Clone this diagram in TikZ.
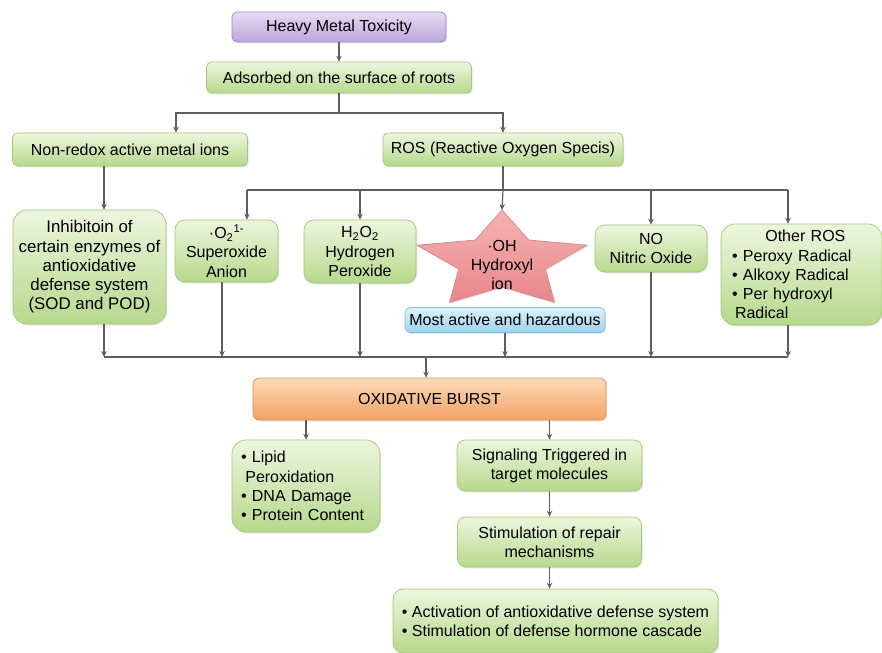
\documentclass[tikz,border=0pt]{standalone}
\usepackage{fontspec}
\setmainfont{Liberation Sans}
\usetikzlibrary{arrows.meta,shadows}
\definecolor{gtop}{HTML}{EDF6DE}
\definecolor{gbot}{HTML}{B7D88C}
\definecolor{gline}{HTML}{A3C878}
\definecolor{ptop}{HTML}{E6DCF3}
\definecolor{pbot}{HTML}{BBA5DB}
\definecolor{pline}{HTML}{9F89C8}
\definecolor{otop}{HTML}{FCDAB9}
\definecolor{obot}{HTML}{F3A264}
\definecolor{oline}{HTML}{E3955A}
\definecolor{btop}{HTML}{DFF2FB}
\definecolor{bbot}{HTML}{9DD2EE}
\definecolor{bline}{HTML}{82C0E2}
\definecolor{stop}{HTML}{F6B2B3}
\definecolor{sbot}{HTML}{E8878B}
\definecolor{sline}{HTML}{D88A8C}
\definecolor{linec}{HTML}{5E5E5E}
\begin{document}
\begin{tikzpicture}[x=0.3mm,y=-0.3mm,
  font=\fontsize{13.66pt}{16.4pt}\selectfont,
  base/.style={line width=0.6pt, rounded corners=#1, inner sep=0pt, align=center,
    drop shadow={opacity=0.22,shadow xshift=0.9pt,shadow yshift=-1.1pt}},
  gbox/.style={base=#1, draw=gline, top color=gtop, bottom color=gbot},
  gbox/.default=1.5mm,
  pbox/.style={base=1.5mm, draw=pline, top color=ptop, bottom color=pbot},
  obox/.style={base=1.8mm, draw=oline, top color=otop, bottom color=obot},
  bbox/.style={base=1.5mm, draw=bline, top color=btop, bottom color=bbot},
  sz/.style 2 args={minimum width=#1*0.3mm, minimum height=#2*0.3mm},
  ln/.style={draw=linec, line width=1pt},
  arr/.style={draw=linec, line width=1pt, -{Stealth[length=5pt,width=4.6pt]}},
]
\useasboundingbox (0,0) rectangle (882,653);
\fill[white] (0,0) rectangle (882,653);

% top chain
\node[pbox, sz={214}{30}] (hmt) at (339,27) {Heavy Metal Toxicity};
\node[gbox, sz={265}{31}] (ads) at (339,77.5) {Adsorbed on the surface of roots};
\node[gbox, sz={235}{33}] (nonredox) at (130,149.5) {Non-redox active metal ions};
\node[gbox, sz={240}{33}] (ros) at (503,149.5) {ROS (Reactive Oxygen Specis)};

% middle row
\node[gbox=4.2mm, sz={153}{114}, font=\fontsize{14.4pt}{16.4pt}\selectfont] (inhib) at (89.5,267)
  {Inhibitoin of\\certain enzymes of\\antioxidative\\defense system\\(SOD and POD)};
\node[gbox=3mm, sz={103}{62}] (o2) at (226.5,251)
  {·O\textsubscript{2}\textsuperscript{1-}\\Superoxide\\Anion};
\node[gbox=3mm, sz={112}{63}] (h2o2) at (360,251.5)
  {H\textsubscript{2}O\textsubscript{2}\\Hydrogen\\Peroxide};
\node[gbox=3mm, sz={112}{47}] (no) at (651,248.5) {NO\\Nitric Oxide};
\node[gbox=4.2mm, sz={161}{101}, text width=41.7mm, inner xsep=3.3mm, align=left] (other) at (801.5,274.5)
  {\hspace*{10mm}Other ROS\\• Peroxy Radical\\• Alkoxy Radical\\• Per hydroxyl\\\hspace*{0.9mm}Radical};

% star
\path[draw=sline, line width=0.6pt, top color=stop, bottom color=sbot,
  drop shadow={opacity=0.22,shadow xshift=0.9pt,shadow yshift=-1.1pt}]
  (502,210) -- (528.8,240) -- (586.9,245.2) -- (545.3,269) -- (554.5,302.3)
  -- (502,287) -- (449.5,302.3) -- (458.7,269) -- (417.1,245.2) -- (475.2,240) -- cycle;
\coordinate (startop) at (502,210);
\node[align=center, inner sep=0pt] (starlbl) at (502,265) {·OH\\Hydroxyl\\ion};
\node[bbox, sz={200}{25}] (most) at (505,320) {Most active and hazardous};

% lower part
\node[obox, sz={353}{42}] (ob) at (429.5,399) {OXIDATIVE BURST};
\node[gbox=4.2mm, sz={148}{92}, text width=39mm, inner xsep=2.7mm, align=left] (lipid) at (306,486)
  {• Lipid\\\hspace*{1.3mm}Peroxidation\\• DNA Damage\\• Protein Content};
\node[gbox=2.5mm, sz={185}{51}] (sig) at (549.5,465.5) {Signaling Triggered in\\target molecules};
\node[gbox=2.5mm, sz={184}{50}] (stim) at (549.5,542) {Stimulation of repair\\mechanisms};
\node[gbox=3mm, sz={325}{64}, align=left] (bottom) at (555.5,621)
  {• Activation of antioxidative defense system\\• Stimulation of defense hormone cascade};

% connectors: top
\draw[arr] (hmt.south) -- (ads.north);
\coordinate (j1) at (339,113);
\coordinate (nrin) at ([xshift=13.8mm]nonredox.north);
\draw[ln] (ads.south) -- (j1);
\draw[arr] (j1) -| (nrin);
\draw[arr] (j1) -| (ros.north);

\coordinate (nrout) at ([xshift=-7.8mm]nonredox.south);
\draw[arr] (nrout) -- (nrout |- inhib.north);

% ROS bus
\coordinate (j2) at (503,190);
\coordinate (o2in) at ([xshift=6.15mm]o2.north);
\coordinate (otherin) at ([xshift=-4.05mm]other.north);
\draw[ln] (ros.south) -- (j2);
\draw[ln] (o2in |- j2) -- (otherin |- j2);
\draw[arr] (o2in |- j2) -- (o2in);
\draw[arr] (h2o2.north |- j2) -- (h2o2.north);
\draw[arr] (j2) -- (startop);
\draw[arr] (no.north |- j2) -- (no.north);
\draw[arr] (otherin |- j2) -- (otherin);

% collection bus
\coordinate (j3) at (426,357);
\coordinate (inhout) at ([xshift=4.35mm]inhib.south);
\coordinate (o2out) at ([xshift=-1.35mm]o2.south);
\coordinate (otherout) at ([xshift=-4.05mm]other.south);
\draw[ln] (inhout |- j3) -- (otherout |- j3);
\draw[arr] (inhout) -- (inhout |- j3);
\draw[arr] (o2out) -- (o2out |- j3);
\draw[arr] (h2o2.south) -- (h2o2.south |- j3);
\draw[arr] (most.south) -- (most.south |- j3);
\draw[arr] (no.south) -- (no.south |- j3);
\draw[arr] (otherout) -- (otherout |- j3);
\draw[arr] (j3) -- (j3 |- ob.north);

% lower connectors
\draw[arr] (lipid.north |- ob.south) -- (lipid.north);
\draw[arr] (sig.north |- ob.south) -- (sig.north);
\draw[arr] (sig.south) -- (stim.north);
\draw[arr] (stim.south) -- (stim.south |- bottom.north);
\end{tikzpicture}
\end{document}
